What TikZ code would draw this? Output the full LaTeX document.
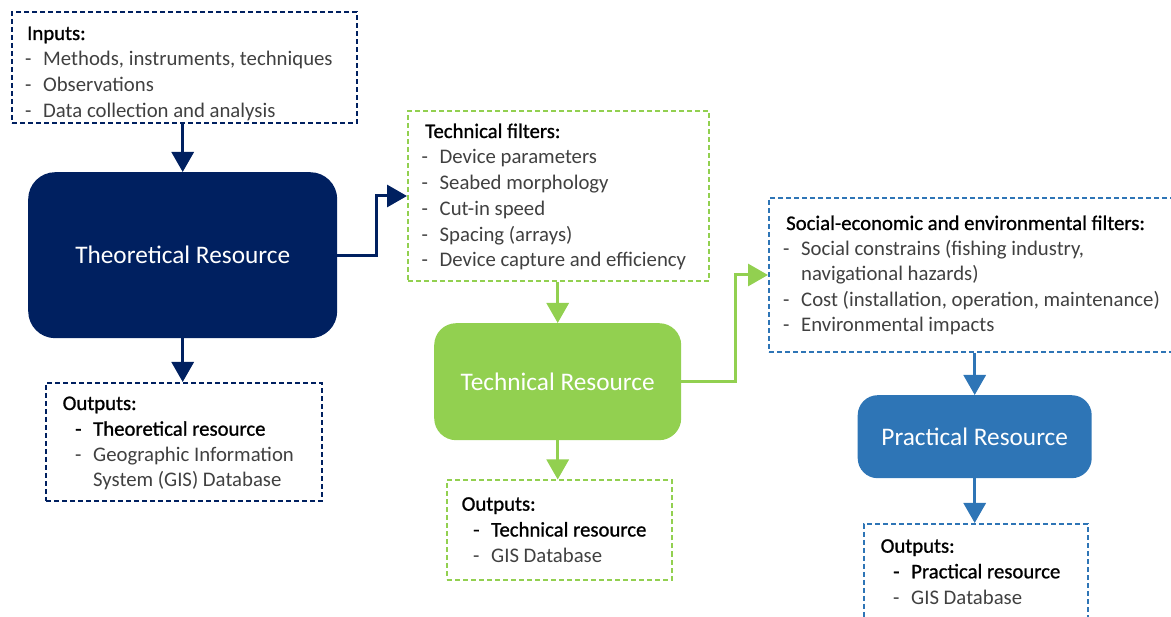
\documentclass[tikz,border=0pt]{standalone}
\usepackage{fontspec}
\setmainfont{Carlito}
\newfontface\hdface{Carlito}[FakeBold=1.0]
\usetikzlibrary{arrows.meta}
\definecolor{navy}{HTML}{002060}
\definecolor{lgreen}{HTML}{92D050}
\definecolor{mblue}{HTML}{2E75B6}
\definecolor{txtgray}{HTML}{404040}
\newcommand{\dsh}{\makebox[18pt][l]{-}}
\begin{document}
\begin{tikzpicture}[x=1pt,y=-1pt,
  body/.style={font=\fontsize{20.75}{26}\selectfont, inner sep=0pt, anchor=base west},
  head/.style={body, text=black, font=\hdface\fontsize{20.75}{26}\selectfont},
  item/.style={body, text=txtgray},
  bitem/.style={body, text=black, font=\hdface\fontsize{20.75}{26}\selectfont},
  dbox/.style={draw=#1, dash pattern=on 5pt off 3pt, line width=2pt, anchor=north west, inner sep=0pt},
  res/.style={fill=#1, anchor=north west, text=white, inner sep=0pt, font=\fontsize{25.3}{30}\selectfont},
  conn/.style={draw=#1, line width=3pt, -{Triangle[length=20pt,width=22pt]}},
]
\useasboundingbox (0,0) rectangle (1171,617);
\clip (0,0) rectangle (1171,617);

% boxes
\node[dbox=navy, minimum width=345pt, minimum height=111pt] (inputs) at (11,11) {};
\node[res=navy, rounded corners=27pt, minimum width=309pt, minimum height=166pt] (theo) at (28,172) {Theoretical Resource};
\node[dbox=navy, minimum width=276pt, minimum height=118pt] (out1) at (45,382) {};

\node[dbox=lgreen, minimum width=301pt, minimum height=170pt] (filt) at (407,110) {};
\node[res=lgreen, rounded corners=22pt, minimum width=247pt, minimum height=117pt] (tech) at (434,323) {Technical Resource};
\node[dbox=lgreen, minimum width=225pt, minimum height=99pt] (out2) at (446,479.5) {};

\node[dbox=mblue, minimum width=430pt, minimum height=154pt] (soc) at (768,197) {};
\node[res=mblue, rounded corners=20pt, minimum width=234pt, minimum height=83pt] (prac) at (857.5,395) {Practical Resource};
\node[dbox=mblue, minimum width=224pt, minimum height=120pt] (out3) at (862.5,523) {};

% connectors
\draw[conn=navy] (inputs.south -| theo.north) -- (theo.north);
\draw[conn=navy] (theo.south) -- (theo.south |- out1.north);
\draw[conn=navy] (theo.east) -- ++(39,0) |- (filt.west);
\draw[conn=lgreen] (filt.south -| tech.north) -- (tech.north);
\draw[conn=lgreen] (tech.south) -- (tech.south |- out2.north);
\draw[conn=lgreen] (tech.east) -- ++(54,0) |- (soc.west);
\draw[conn=mblue] (soc.south -| prac.north) -- (prac.north);
\draw[conn=mblue] (prac.south) -- (prac.south |- out3.north);

% inputs text
\node[head] (i0) at (27,40) {Inputs:};
\node[item] (i1) at (25,66) {\dsh Methods, instruments, techniques};
\node[item] (i2) at (25,91.7) {\dsh Observations};
\node[item] (i3) at (25,117.4) {\dsh Data collection and analysis};

% outputs 1
\node[head] (a0) at (62.5,410) {Outputs:};
\node[bitem] (a1) at (75,435.7) {\dsh Theoretical resource};
\node[item] (a2) at (75,461.4) {\dsh Geographic Information};
\node[item] (a3) at (93,487) {System (GIS) Database};

% technical filters
\node[head] (f0) at (425,138) {Technical filters:};
\node[item] (f1) at (421.5,164) {\dsh Device parameters};
\node[item] (f2) at (421.5,189.7) {\dsh Seabed morphology};
\node[item] (f3) at (421.5,215.4) {\dsh Cut-in speed};
\node[item] (f4) at (421.5,241.1) {\dsh Spacing (arrays)};
\node[item] (f5) at (421.5,266.8) {\dsh Device capture and efficiency};

% outputs 2
\node[head] (b0) at (461.5,510.7) {Outputs:};
\node[bitem] (b1) at (473,536.5) {\dsh Technical resource};
\node[item] (b2) at (473,562) {\dsh GIS Database};

% social filters
\node[head] (s0) at (786,230) {Social-economic and environmental filters:};
\node[item] (s1) at (783,255.5) {\dsh Social constrains (fishing industry,};
\node[item] (s2) at (801,281) {navigational hazards)};
\node[item] (s3) at (783,306.5) {\dsh Cost (installation, operation, maintenance)};
\node[item] (s4) at (783,332) {\dsh Environmental impacts};

% outputs 3
\node[head] (c0) at (880.5,552.7) {Outputs:};
\node[bitem] (c1) at (893,578.3) {\dsh Practical resource};
\node[item] (c2) at (893,604) {\dsh GIS Database};
\end{tikzpicture}
\end{document}
